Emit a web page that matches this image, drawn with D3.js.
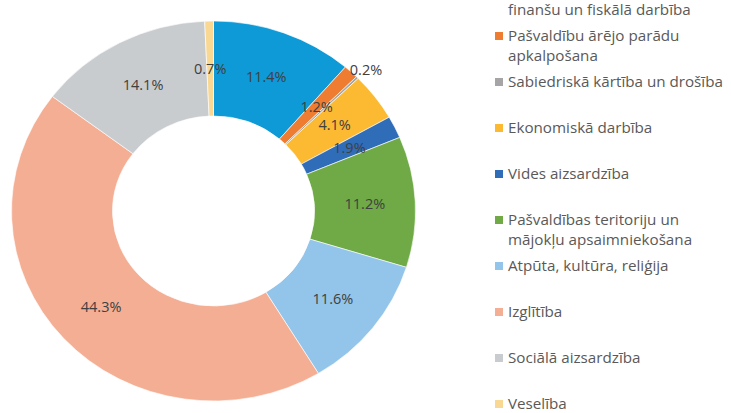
<!DOCTYPE html>
<html>
<head>
<meta charset="utf-8">
<script src="https://cdn.jsdelivr.net/npm/d3@7"></script>
<style>
  body { margin: 0; background: #fff; }
  svg { display: block; font-family: "Open Sans", "Noto Sans", sans-serif; }
</style>
</head>
<body>
<div id="app"></div>
<script>
// data
const categories = [
  ["Vispārējie valdības dienesti,", "finanšu un fiskālā darbība"],
  ["Pašvaldību ārējo parādu", "apkalpošana"],
  ["Sabiedriskā kārtība un drošība"],
  ["Ekonomiskā darbība"],
  ["Vides aizsardzība"],
  ["Pašvaldības teritoriju un", "mājokļu apsaimniekošana"],
  ["Atpūta, kultūra, reliģija"],
  ["Izglītība"],
  ["Sociālā aizsardzība"],
  ["Veselība"]
];
const shares = [11.4, 1.2, 0.2, 4.1, 1.9, 11.2, 11.6, 44.3, 14.1, 0.7];
const labels = ["11.4%", "1.2%", "0.2%", "4.1%", "1.9%", "11.2%", "11.6%", "44.3%", "14.1%", "0.7%"];
const colors = ["#0E9AD6", "#EE7D31", "#A5A5A5", "#FBBA32", "#2F6DB8", "#6FAA46",
                "#93C4E9", "#F4AE94", "#C9CCCF", "#F9D894"];

const width = 731, height = 413;
const cx = 213.5, cy = 211;
const rOuter = 190, rInner = 95;
const stretchX = 202 / 190;   // the picture is a little wider than tall

const svg = d3.select("#app").append("svg")
    .attr("width", width)
    .attr("height", height);

const pie = d3.pie().sort(null).value(d => d);
const arcs = pie(shares);

const arc = d3.arc().innerRadius(rInner).outerRadius(rOuter);
const labelArc = d3.arc().innerRadius(rOuter * 1.06).outerRadius(rOuter * 1.06);

const ring = svg.append("g")
    .attr("transform", `translate(${cx},${cy}) scale(${stretchX},1)`);

ring.selectAll("path")
    .data(arcs)
    .join("path")
    .attr("fill", (d, i) => colors[i])
    .attr("stroke", "#fff")
    .attr("stroke-width", 0.6)
    .attr("d", arc);

// labels drawn unscaled so the text is not stretched
const labelG = svg.append("g").attr("transform", `translate(${cx},${cy})`);
labelG.selectAll("text")
    .data(arcs)
    .join("text")
    .attr("text-anchor", "middle")
    .attr("dy", "0.35em")
    .attr("font-size", 14.5)
    .attr("fill", "#404040")
    .attr("transform", d => {
        const c = d.value < 0.5 ? labelArc.centroid(d) : arc.centroid(d);
        return `translate(${c[0] * stretchX},${c[1]})`;
    })
    .text((d, i) => labels[i]);

// legend
const legendX = 495, legendStep = 46, legendTop = -10;
const legendY = d3.scaleLinear().domain([0, 1]).range([legendTop, legendTop + legendStep]);

const item = svg.append("g").selectAll("g")
    .data(categories)
    .join("g")
    .attr("transform", (d, i) => `translate(${legendX},${legendY(i)})`);

item.append("rect")
    .attr("x", 0)
    .attr("y", -4)
    .attr("width", 8)
    .attr("height", 8)
    .attr("fill", (d, i) => colors[i]);

item.append("text")
    .attr("font-size", 15.2)
    .attr("fill", "#595959")
    .selectAll("tspan")
    .data(d => d)
    .join("tspan")
    .attr("x", 13)
    .attr("y", (d, j) => j * 20)
    .attr("dy", "0.35em")
    .text(d => d);
</script>
</body>
</html>
